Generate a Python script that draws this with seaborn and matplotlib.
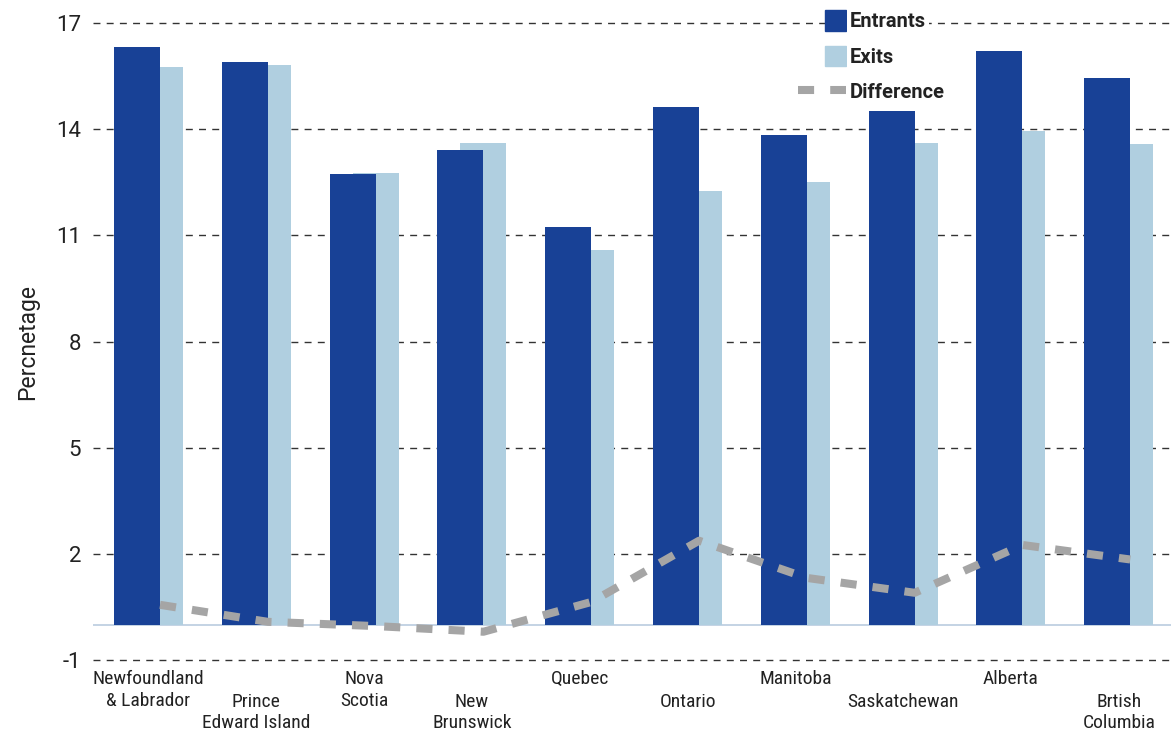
import numpy as np
import pandas as pd
import matplotlib
matplotlib.use("Agg")
import matplotlib.pyplot as plt
import matplotlib.patches as mpatches
import matplotlib.transforms as mtransforms
from matplotlib.lines import Line2D
from matplotlib.legend_handler import HandlerPatch
from matplotlib import font_manager
import seaborn as sns

# ---------------- data ----------------
provinces = ["Newfoundland\n& Labrador", "Prince\nEdward Island", "Nova\nScotia",
             "New\nBrunswick", "Quebec", "Ontario", "Manitoba", "Saskatchewan",
             "Alberta", "Brtish\nColumbia"]
entrants = [16.31, 15.89, 12.73, 13.40, 11.24, 14.62, 13.83, 14.51, 16.20, 15.44]
exits = [15.75, 15.81, 12.76, 13.60, 10.59, 12.25, 12.50, 13.60, 13.94, 13.57]
difference = [0.57, 0.09, -0.03, -0.19, 0.65, 2.38, 1.33, 0.91, 2.26, 1.85]
yticks = [-1, 2, 5, 8, 11, 14, 17]

# ---------------- style ----------------
C_ENT = "#184196"
C_EXT = "#b0cfe0"
C_DIF = "#a5a5a5"

sns.set_theme(style="white")
avail = sorted({f.name for f in font_manager.fontManager.ttflist})
narrow = None
for cand in ["Roboto Condensed", "Liberation Sans Narrow", "Open Sans Condensed",
             "Noto Sans Condensed"]:
    if cand in avail:
        narrow = cand
        break
if narrow is None:
    narrow = "Roboto"
plt.rcParams["font.family"] = ["Roboto", "DejaVu Sans"]

W, H = 1171, 736
fig = plt.figure(figsize=(W / 100, H / 100), dpi=100)
ax = fig.add_axes([93 / W, 1 - 661.5 / H, 1 - 93 / W, (661.5 - 21.8) / H])

off = 0.107
bw = 0.427
idx = np.arange(len(provinces))
df = pd.DataFrame({"i": idx, "prov": provinces, "entrants": entrants,
                   "exits": exits, "difference": difference})

sns.barplot(x=df["i"] + off, y=df["exits"], native_scale=True, width=bw,
            color=C_EXT, saturation=1, linewidth=0, ax=ax, zorder=2)
sns.barplot(x=df["i"] - off, y=df["entrants"], native_scale=True, width=bw,
            color=C_ENT, saturation=1, linewidth=0, ax=ax, zorder=3)
sns.lineplot(x=df["i"] + off, y=df["difference"], ax=ax, color=C_DIF,
             lw=5.8, linestyle=(0, (2, 2)), dash_capstyle="butt", zorder=4)

ax.axhline(0, color="#c4d3e4", lw=1.4, zorder=1)
for t in yticks:
    ax.axhline(t, color="#333333", lw=1.0, ls=(0, (5, 4.5)), zorder=0)

ax.set_xlim(-0.515, 9.485)
ax.set_ylim(-1.03, 17.03)
ax.set_yticks(yticks)
ax.set_yticklabels([str(t) for t in yticks], fontsize=16, color="#222222")
ax.set_xticks(idx)
ax.set_xticklabels([""] * len(idx))
ax.tick_params(axis="both", length=0)
ax.tick_params(axis="y", pad=8.5)
for s in ax.spines.values():
    s.set_visible(False)
ax.set_xlabel("")
ax.set_ylabel("Percnetage", fontsize=16.5, color="#222222", labelpad=12)

# category labels, alternating rows
xfs = 14 if narrow != "Roboto" else 13.5
trans = mtransforms.blended_transform_factory(ax.transData, fig.transFigure)
for i, p in zip(idx, provinces):
    ytop = 670 if i % 2 == 0 else 693
    ax.text(i, 1 - ytop / H, p, transform=trans, ha="center", va="top",
            fontsize=xfs, family=[narrow, "DejaVu Sans"], color="#222222",
            linespacing=1.25)


def square(legend, orig_handle, xdescent, ydescent, width, height, fontsize):
    s = height
    return mpatches.Rectangle((width - s - xdescent, -ydescent), s, s)


handles = [mpatches.Patch(color=C_ENT), mpatches.Patch(color=C_EXT),
           Line2D([], [], color=C_DIF, lw=5.8, ls=(0, (2, 2)), dash_capstyle="butt")]
leg = fig.legend(handles, ["Entrants", "Exits", "Difference"],
                 loc="upper left", bbox_to_anchor=(798 / W, 1 - 10 / H),
                 bbox_transform=fig.transFigure, frameon=False,
                 prop={"size": 14.5, "weight": "bold"},
                 handlelength=2.37, handleheight=1.2, handletextpad=0.2,
                 labelspacing=0.72, borderpad=0, borderaxespad=0,
                 handler_map={mpatches.Patch: HandlerPatch(patch_func=square)})
for t in leg.get_texts():
    t.set_color("#222222")
    t.set_bbox(dict(facecolor="white", edgecolor="none", pad=2))

fig.savefig("out.png", dpi=100)
